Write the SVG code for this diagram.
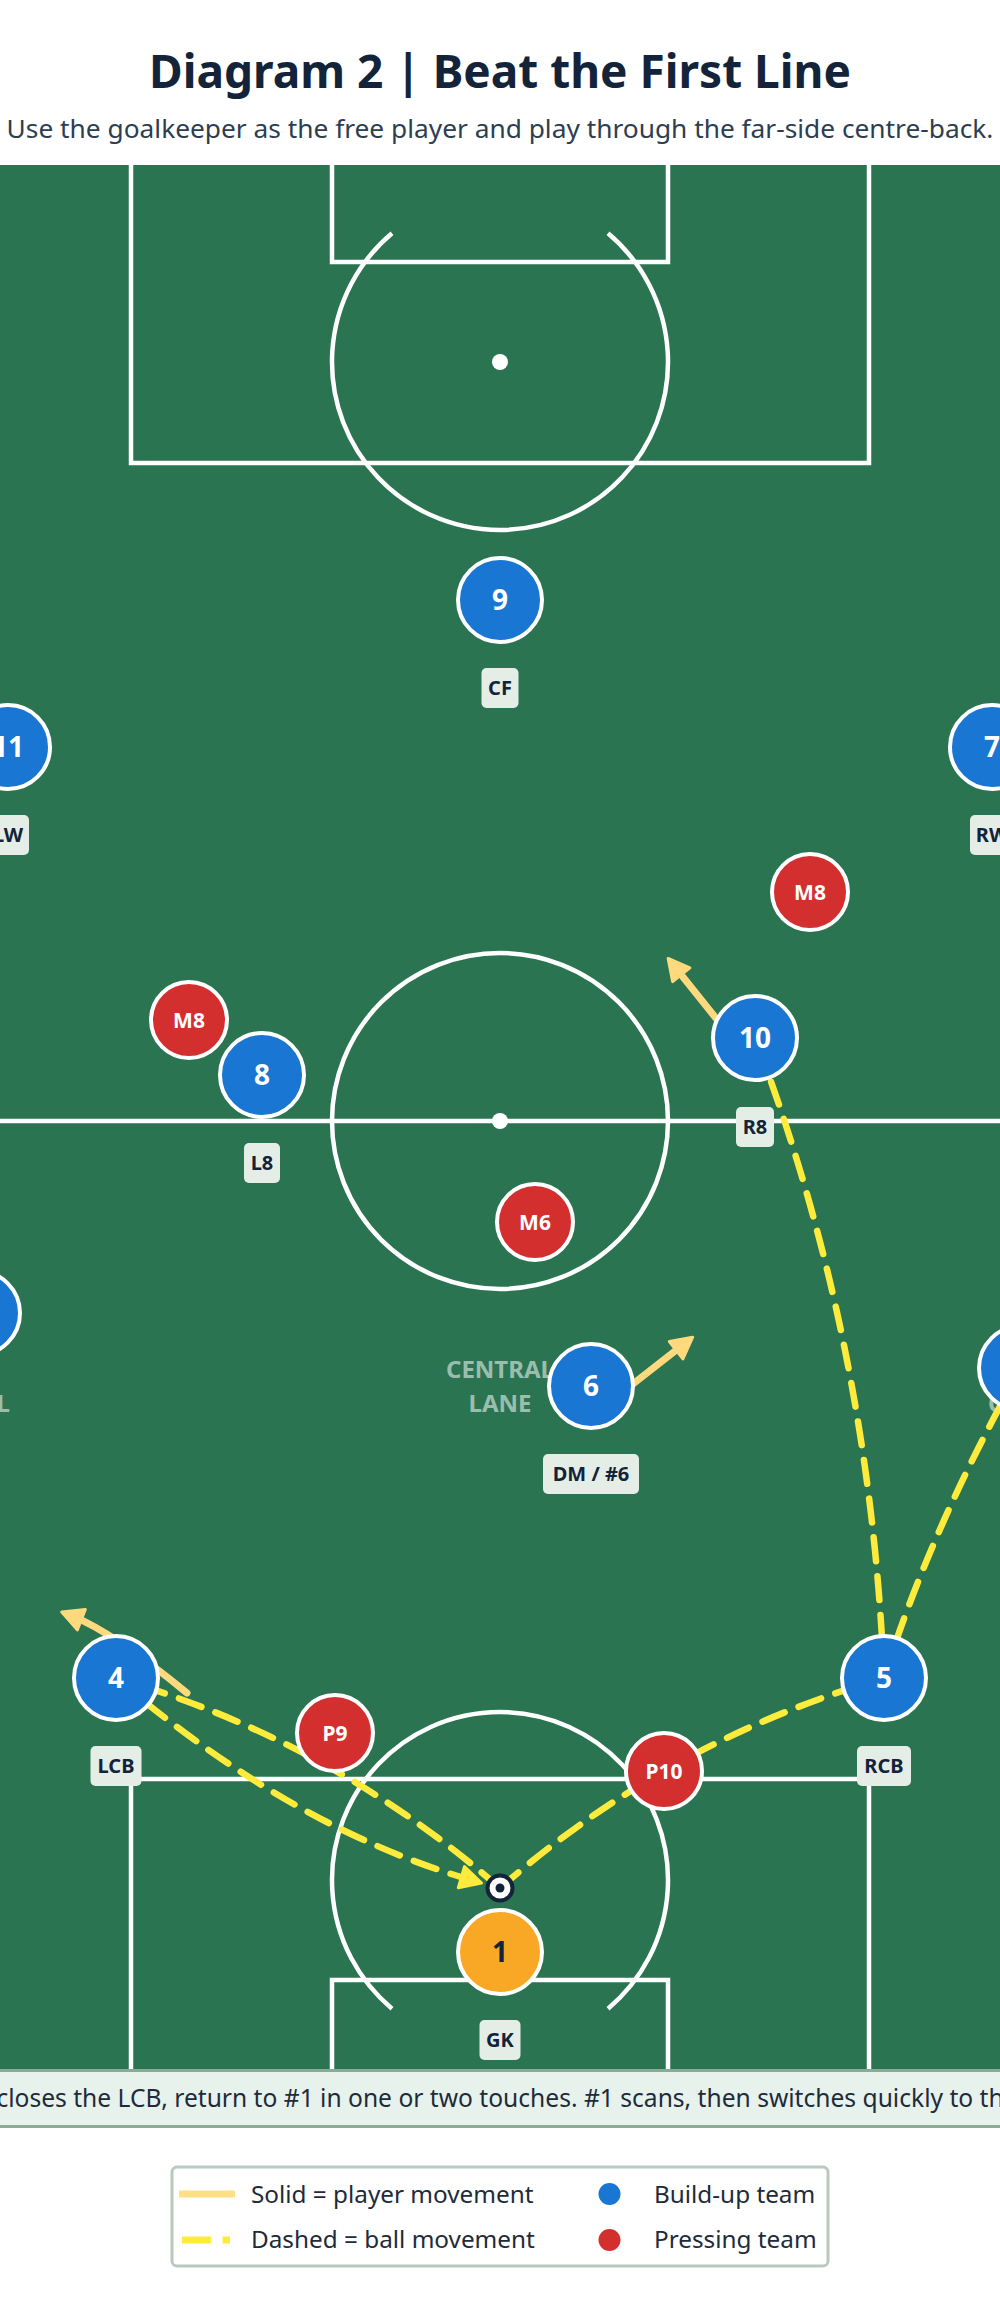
<svg xmlns="http://www.w3.org/2000/svg" width="1000" height="2305" viewBox="0 0 1000 2305">
<style>
.t{font-family:"Noto Sans","Open Sans",sans-serif}
.line{fill:none;stroke:#ffffff;stroke-width:4.5}
.lane{font-family:"Noto Sans","Open Sans",sans-serif;font-weight:700;font-size:24px;fill:#ffffff;fill-opacity:0.55;text-anchor:middle}
.blue{fill:#1976d2;stroke:#ffffff;stroke-width:4}
.red{fill:#d32f2f;stroke:#ffffff;stroke-width:4}
.gk{fill:#f9a825;stroke:#ffffff;stroke-width:4}
.num{font-family:"Noto Sans","Open Sans",sans-serif;font-weight:700;font-size:28px;fill:#ffffff;text-anchor:middle}
.rnum{font-family:"Noto Sans","Open Sans",sans-serif;font-weight:700;font-size:21px;fill:#ffffff;text-anchor:middle}
.lbox{fill:#e4eee7}
.ltxt{font-family:"Noto Sans","Open Sans",sans-serif;font-weight:700;font-size:20px;fill:#13233a;text-anchor:middle}
.move{fill:none;stroke:#ffd97d;stroke-width:7;stroke-linecap:round}
.ball{fill:none;stroke:#ffeb3b;stroke-width:6.5;stroke-linecap:round;stroke-dasharray:24 15}
.leg{font-family:"Noto Sans","Open Sans",sans-serif;font-size:24.3px;fill:#1e2b3a}
</style>
<defs>
<marker id="mMove" markerUnits="userSpaceOnUse" viewBox="-15 -15 30 30" markerWidth="30" markerHeight="30" refX="0" refY="0" orient="auto">
<path d="M-10,-11 L11,0 L-10,11 Z" fill="#ffd97d" stroke="#ffd97d" stroke-width="3" stroke-linejoin="round"/>
</marker>
<marker id="mBall" markerUnits="userSpaceOnUse" viewBox="-15 -15 30 30" markerWidth="30" markerHeight="30" refX="0" refY="0" orient="auto">
<path d="M-10,-11 L11,0 L-10,11 Z" fill="#ffeb3b" stroke="#ffeb3b" stroke-width="3" stroke-linejoin="round" stroke-dasharray="none"/>
</marker>
</defs>
<rect x="0" y="0" width="1000" height="2305" fill="#ffffff"/>
<text class="t" x="500" y="88" font-size="46" font-weight="700" fill="#13233a" text-anchor="middle">Diagram 2 | Beat the First Line</text>
<text class="t" x="500" y="138" font-size="26.3" fill="#2c3e50" text-anchor="middle">Use the goalkeeper as the free player and play through the far-side centre-back.</text>
<g id="pitch">
<rect x="0" y="165" width="1000" height="1906" fill="#2a7451"/>
<path class="line" d="M131,150 V463 H869 V150"/>
<path class="line" d="M332,150 V262 H668 V150"/>
<path class="line" d="M392,233.3 A168,168 0 1 0 608,233.3"/>
<circle cx="500" cy="362" r="8" fill="#ffffff"/>
<line class="line" x1="-5" y1="1121" x2="1005" y2="1121"/>
<circle class="line" cx="500" cy="1121" r="168"/>
<circle cx="500" cy="1121" r="8" fill="#ffffff"/>
<path class="line" d="M131,2090 V1779 H869 V2090"/>
<path class="line" d="M332,2090 V1980 H668 V2090"/>
<path class="line" d="M392,2008.7 A168,168 0 1 1 608,2008.7"/>
<text class="lane" x="500" y="1378">CENTRAL</text>
<text class="lane" x="500" y="1412">LANE</text>
<text class="lane" x="10" y="1412" style="text-anchor:end">L</text>
<text class="lane" x="988" y="1412" style="text-anchor:start">C</text>
</g>
<g id="connectors">
<path id="move-10" class="move" d="M731,1037 L675,967" marker-end="url(#mMove)"/>
<path id="move-6" class="move" d="M615,1398 L684,1344" marker-end="url(#mMove)"/>
<path id="move-4" class="move" d="M187,1693 Q113,1632 72,1616" marker-end="url(#mMove)"/>
<path id="pass-gk-4" class="ball" d="M500,1888 Q330,1740 116,1678" marker-end="url(#mBall)"/>
<path id="pass-4-gk" class="ball" d="M116,1678 Q292,1828 471,1880" marker-end="url(#mBall)"/>
<path id="pass-gk-5" class="ball" d="M500,1888 Q670,1740 884,1678" marker-end="url(#mBall)"/>
<path id="pass-5-10" class="ball" d="M884,1678 Q870,1340 755,1038" marker-end="url(#mBall)"/>
<path id="pass-5-rb" class="ball" d="M884,1678 Q930,1530 1021,1368" marker-end="url(#mBall)"/>
</g>
<g id="node-9"><circle class="blue" cx="500" cy="600" r="42"/><text class="num" x="500" y="610">9</text><rect class="lbox" x="481.5" y="668" width="37" height="40" rx="5"/><text class="ltxt" x="500" y="695">CF</text></g>
<g id="node-11"><circle class="blue" cx="8" cy="747" r="42"/><text class="num" x="8" y="757">11</text><rect class="lbox" x="-13" y="815" width="42" height="40" rx="5"/><text class="ltxt" x="8" y="842">LW</text></g>
<g id="node-7"><circle class="blue" cx="992" cy="747" r="42"/><text class="num" x="992" y="757">7</text><rect class="lbox" x="970" y="815" width="45" height="40" rx="5"/><text class="ltxt" x="992" y="842">RW</text></g>
<g id="node-m8r"><circle class="red" cx="810" cy="892" r="38"/><text class="rnum" x="810" y="900">M8</text></g>
<g id="node-m8l"><circle class="red" cx="189" cy="1020" r="38"/><text class="rnum" x="189" y="1028">M8</text></g>
<g id="node-8"><circle class="blue" cx="262" cy="1075" r="42"/><text class="num" x="262" y="1085">8</text><rect class="lbox" x="244" y="1143" width="36" height="40" rx="5"/><text class="ltxt" x="262" y="1170">L8</text></g>
<g id="node-10"><circle class="blue" cx="755" cy="1038" r="42"/><text class="num" x="755" y="1048">10</text><rect class="lbox" x="736" y="1107" width="38" height="40" rx="5"/><text class="ltxt" x="755" y="1134">R8</text></g>
<g id="node-m6"><circle class="red" cx="535" cy="1222" r="38"/><text class="rnum" x="535" y="1230">M6</text></g>
<g id="node-lb"><circle class="blue" cx="-22" cy="1313" r="42"/></g>
<g id="node-rb"><circle class="blue" cx="1021" cy="1368" r="42"/></g>
<g id="node-6"><circle class="blue" cx="591" cy="1386" r="42"/><text class="num" x="591" y="1396">6</text><rect class="lbox" x="543" y="1454" width="96" height="40" rx="5"/><text class="ltxt" x="591" y="1481">DM / #6</text></g>
<g id="node-4"><circle class="blue" cx="116" cy="1678" r="42"/><text class="num" x="116" y="1688">4</text><rect class="lbox" x="90.5" y="1746" width="51" height="40" rx="5"/><text class="ltxt" x="116" y="1773">LCB</text></g>
<g id="node-5"><circle class="blue" cx="884" cy="1678" r="42"/><text class="num" x="884" y="1688">5</text><rect class="lbox" x="857" y="1746" width="54" height="40" rx="5"/><text class="ltxt" x="884" y="1773">RCB</text></g>
<g id="node-p9"><circle class="red" cx="335" cy="1733" r="38"/><text class="rnum" x="335" y="1741">P9</text></g>
<g id="node-p10"><circle class="red" cx="664" cy="1771" r="38"/><text class="rnum" x="664" y="1779">P10</text></g>
<g id="node-1"><circle class="gk" cx="500" cy="1952" r="42"/><text class="num" x="500" y="1962" style="fill:#13233a">1</text><rect class="lbox" x="479.5" y="2020" width="41" height="40" rx="5"/><text class="ltxt" x="500" y="2047">GK</text></g>
<g id="ball"><circle cx="500" cy="1888" r="12.5" fill="#ffffff" stroke="#13233a" stroke-width="4"/><circle cx="500" cy="1888" r="4.5" fill="#13233a"/></g>
<g id="caption">
<rect x="-5" y="2070.5" width="1010" height="56" fill="#e8f2ec" stroke="#8aac95" stroke-width="3"/>
<text class="t" x="500" y="2107" font-size="24.6" fill="#1e2b3a" text-anchor="middle">closes the LCB, return to #1 in one or two touches. #1 scans, then switches quickly to th</text>
</g>
<g id="legend">
<rect x="172" y="2167" width="656" height="99" rx="5" fill="#ffffff" stroke="#b9c9bd" stroke-width="3"/>
<line x1="179" y1="2194" x2="235" y2="2194" stroke="#ffdf84" stroke-width="7"/>
<text class="leg" x="251" y="2203">Solid = player movement</text>
<line x1="182" y1="2240" x2="230" y2="2240" stroke="#ffeb3b" stroke-width="7" stroke-dasharray="29 11.5"/>
<text class="leg" x="251" y="2248">Dashed = ball movement</text>
<circle cx="609.5" cy="2194" r="11" fill="#1976d2"/>
<text class="leg" x="654" y="2203">Build-up team</text>
<circle cx="609.5" cy="2240" r="11" fill="#d32f2f"/>
<text class="leg" x="654" y="2248">Pressing team</text>
</g>
</svg>
